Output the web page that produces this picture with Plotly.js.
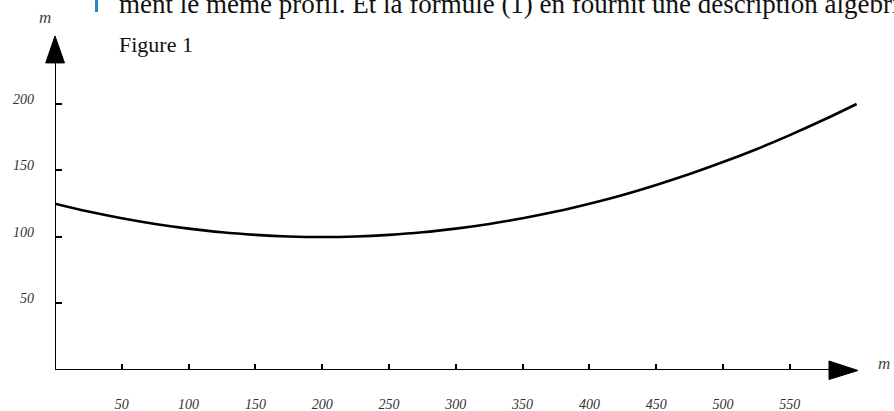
<!DOCTYPE html>
<html>
<head>
<meta charset="utf-8">
<script src="https://cdn.plot.ly/plotly-3.0.1.min.js"></script>
<style>html,body{margin:0;padding:0;background:#fff;overflow:hidden}#chart{width:894px;height:411px}</style>
</head>
<body>
<div id="chart"></div>
<script>
// Data
const xValues = [0, 25, 50, 75, 100, 125, 150, 175, 200, 225, 250, 275, 300, 325, 350, 375, 400, 425, 450, 475, 500, 525, 550, 575, 600];
const yValues = [125, 119.1, 114.1, 109.8, 106.3, 103.5, 101.6, 100.4, 100, 100.4, 101.6, 103.5, 106.3, 109.8, 114.1, 119.1, 125, 131.6, 139.1, 147.3, 156.3, 166, 176.6, 187.9, 200];
const xTickVals = [50, 100, 150, 200, 250, 300, 350, 400, 450, 500, 550];
const xTickText = ['50', '100', '150', '200', '250', '300', '350', '400', '450', '500', '550'];
const yTickVals = [50, 100, 150, 200];
const yTickText = ['50', '100', '150', '200'];
const axisLabel = 'm';
const figureTitle = 'Figure 1';
const bodyText = 'ment le même profil. Et la formule (1) en fournit une description algébrique';

const W = 894, H = 411;
const L = 55, B = 40.5, T = 0, R = 0;
const plotW = W - L - R, plotH = H - T - B;
const pxPerX = 1.336, pxPerY = 1.332;
const xMax = plotW / pxPerX, yMax = plotH / pxPerY;
const px = v => (v - L) / plotW;          // pixel x -> paper x
const py = v => (H - B - v) / plotH;      // pixel y -> paper y

const tickFont = {family: 'Liberation Serif, Times New Roman, serif', size: 14, color: '#333', style: 'italic'};
const mFont = {family: 'Liberation Serif, serif', size: 17, color: '#444', style: 'italic'};

const trace = {
  x: xValues, y: yValues, type: 'scatter', mode: 'lines',
  line: {color: '#000', width: 2.6, shape: 'spline', smoothing: 1},
  hoverinfo: 'skip', cliponaxis: false
};

const layout = {
  width: W, height: H,
  margin: {l: L, r: R, t: T, b: B, pad: 0},
  paper_bgcolor: '#fff', plot_bgcolor: '#fff',
  showlegend: false,
  xaxis: {
    range: [0, xMax], showgrid: false, zeroline: false, showline: false,
    tickvals: xTickVals, ticktext: xTickText,
    ticks: 'inside', ticklen: 6, tickwidth: 2, tickcolor: '#000',
    tickfont: tickFont, ticklabelstandoff: 24, fixedrange: true
  },
  yaxis: {
    range: [0, yMax], showgrid: false, zeroline: false, showline: false,
    tickvals: yTickVals, ticktext: yTickText,
    ticks: 'inside', ticklen: 7, tickwidth: 2, tickcolor: '#000',
    tickfont: tickFont, ticklabelstandoff: 20, ticklabelshift: -5, fixedrange: true
  },
  shapes: [
    // axis lines
    {type: 'line', xref: 'x', yref: 'y', x0: 0, y0: 0, x1: 0, y1: (H - B - 62.7) / pxPerY, line: {color: '#000', width: 2}},
    {type: 'line', xref: 'x', yref: 'y', x0: 0, y0: 0, x1: (829 - L) / pxPerX, y1: 0, line: {color: '#000', width: 2}},
    // arrow heads
    {type: 'path', xref: 'paper', yref: 'paper',
      path: `M ${px(45.7)} ${py(63)} L ${px(64.5)} ${py(63)} L ${px(55)} ${py(36)} Z`,
      fillcolor: '#000', line: {color: '#000', width: 1}},
    {type: 'path', xref: 'paper', yref: 'paper',
      path: `M ${px(829)} ${py(361.5)} L ${px(829)} ${py(380)} L ${px(858)} ${py(371)} Z`,
      fillcolor: '#000', line: {color: '#000', width: 1}},
    // blue margin bar
    {type: 'rect', xref: 'paper', yref: 'paper', x0: px(95), x1: px(98), y0: py(12), y1: py(-2),
      fillcolor: '#2a86c0', line: {width: 0}}
  ],
  annotations: [
    {xref: 'paper', yref: 'paper', x: px(45), y: py(18), text: axisLabel, showarrow: false,
      font: mFont, xanchor: 'center', yanchor: 'middle'},
    {xref: 'paper', yref: 'paper', x: px(884), y: py(364), text: axisLabel, showarrow: false,
      font: mFont, xanchor: 'center', yanchor: 'middle'},
    {xref: 'paper', yref: 'paper', x: px(117), y: py(45), text: figureTitle, showarrow: false,
      font: {family: 'Liberation Serif, serif', size: 22, color: '#111'}, xanchor: 'left', yanchor: 'middle'},
    {xref: 'paper', yref: 'paper', x: px(117), y: py(4), text: bodyText, showarrow: false,
      font: {family: 'Liberation Serif, serif', size: 27, color: '#111'}, xanchor: 'left', yanchor: 'middle'}
  ]
};

Plotly.newPlot('chart', [trace], layout, {displayModeBar: false, staticPlot: true});
</script>
</body>
</html>
